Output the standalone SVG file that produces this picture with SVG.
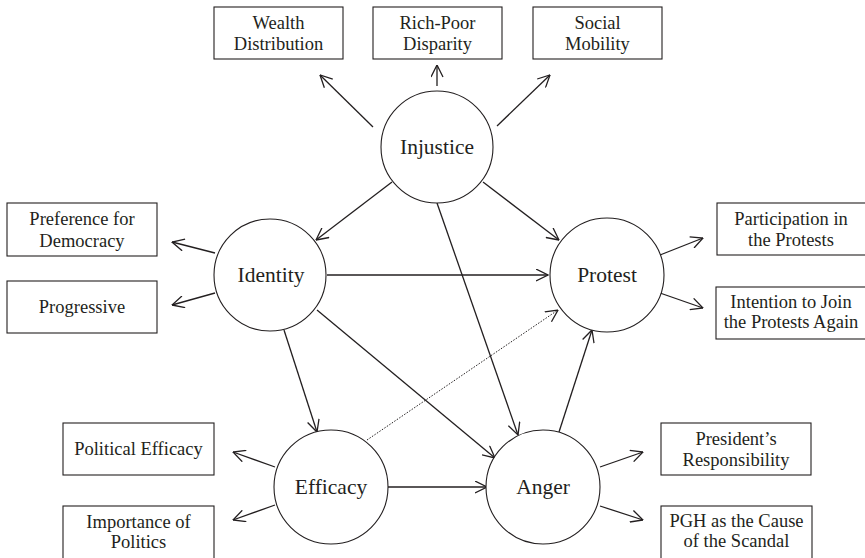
<svg xmlns="http://www.w3.org/2000/svg" width="865" height="558" viewBox="0 0 865 558">
<defs>
<marker id="ah" viewBox="0 0 13 13" refX="12.5" refY="6.5" markerWidth="13" markerHeight="13" markerUnits="userSpaceOnUse" orient="auto">
<path d="M0.5,0.5 L12.5,6.5 L0.5,12.5" fill="none" stroke="#231f20" stroke-width="1.3"/>
</marker>
</defs>
<style>
.box{fill:#fff;stroke:#231f20;stroke-width:1.1}
.circ{fill:#fff;stroke:#231f20;stroke-width:1.1}
.t{font-family:"Liberation Serif","Times New Roman",serif;font-size:18.5px;fill:#231f20;text-anchor:middle}
.c{font-family:"Liberation Serif","Times New Roman",serif;font-size:21.5px;fill:#231f20;text-anchor:middle}
.e{fill:none;stroke:#231f20;stroke-width:1.3;marker-end:url(#ah)}
.d{fill:none;stroke:#231f20;stroke-width:1;stroke-dasharray:1.5 1.5;marker-end:url(#ah)}
</style>
<rect width="865" height="558" fill="#fff"/>
<g id="connectors">
<line class="e" x1="373" y1="127" x2="320" y2="75"/>
<line class="e" x1="437" y1="86" x2="437" y2="65"/>
<line class="e" x1="497" y1="126" x2="550" y2="75"/>
<line class="e" x1="215" y1="253" x2="172" y2="242"/>
<line class="e" x1="215" y1="293" x2="172" y2="305"/>
<line class="e" x1="660" y1="255" x2="703" y2="238"/>
<line class="e" x1="660" y1="293" x2="703" y2="308"/>
<line class="e" x1="275" y1="467" x2="233" y2="452"/>
<line class="e" x1="275" y1="505" x2="233" y2="520"/>
<line class="e" x1="600" y1="467" x2="643" y2="452"/>
<line class="e" x1="600" y1="506" x2="643" y2="520"/>
<line class="e" x1="392" y1="182" x2="316" y2="240"/>
<line class="e" x1="483" y1="182" x2="559" y2="240"/>
<line class="e" x1="437" y1="203" x2="518" y2="435"/>
<line class="e" x1="327" y1="275" x2="548" y2="275"/>
<line class="e" x1="284" y1="330" x2="317" y2="432"/>
<line class="e" x1="317" y1="310" x2="495" y2="458"/>
<line class="d" x1="367" y1="440" x2="558" y2="310"/>
<line class="e" x1="559" y1="432" x2="592" y2="330"/>
<line class="e" x1="388" y1="487" x2="487" y2="487"/>
</g>
<g id="injustice"><circle class="circ" cx="437" cy="147" r="56"/><text class="c" x="437" y="154">Injustice</text></g>
<g id="identity"><circle class="circ" cx="270" cy="275" r="56"/><text class="c" x="271" y="282">Identity</text></g>
<g id="protest"><circle class="circ" cx="607" cy="275" r="57"/><text class="c" x="607" y="282">Protest</text></g>
<g id="efficacy"><circle class="circ" cx="331" cy="487" r="57"/><text class="c" x="331" y="494">Efficacy</text></g>
<g id="anger"><circle class="circ" cx="543" cy="487" r="57"/><text class="c" x="543" y="494">Anger</text></g>
<g id="wealth"><rect class="box" x="214" y="7" width="129" height="52"/><text class="t" x="278.5" y="29">Wealth</text><text class="t" x="278.5" y="50">Distribution</text></g>
<g id="richpoor"><rect class="box" x="373" y="7" width="129" height="52"/><text class="t" x="437.5" y="29">Rich-Poor</text><text class="t" x="437.5" y="50">Disparity</text></g>
<g id="mobility"><rect class="box" x="533" y="7" width="129" height="52"/><text class="t" x="597.5" y="29">Social</text><text class="t" x="597.5" y="50">Mobility</text></g>
<g id="democracy"><rect class="box" x="7" y="203" width="150" height="53"/><text class="t" x="82" y="225">Preference for</text><text class="t" x="82" y="247">Democracy</text></g>
<g id="progressive"><rect class="box" x="7" y="281" width="150" height="52"/><text class="t" x="82" y="313">Progressive</text></g>
<g id="participation"><rect class="box" x="717" y="203" width="150" height="52"/><text class="t" x="791" y="225">Participation in</text><text class="t" x="791" y="246">the Protests</text></g>
<g id="intention"><rect class="box" x="716" y="287" width="151" height="52"/><text class="t" x="791" y="308">Intention to Join</text><text class="t" x="791" y="328">the Protests Again</text></g>
<g id="polefficacy"><rect class="box" x="63" y="423" width="151" height="52"/><text class="t" x="138.5" y="455">Political Efficacy</text></g>
<g id="importance"><rect class="box" x="63" y="506" width="151" height="60"/><text class="t" x="138.5" y="528">Importance of</text><text class="t" x="138.5" y="548">Politics</text></g>
<g id="president"><rect class="box" x="661" y="423" width="150" height="52"/><text class="t" x="736" y="445">President’s</text><text class="t" x="736" y="466">Responsibility</text></g>
<g id="pgh"><rect class="box" x="661" y="506" width="151" height="60"/><text class="t" x="736.5" y="527">PGH as the Cause</text><text class="t" x="736.5" y="547">of the Scandal</text></g>
</svg>
